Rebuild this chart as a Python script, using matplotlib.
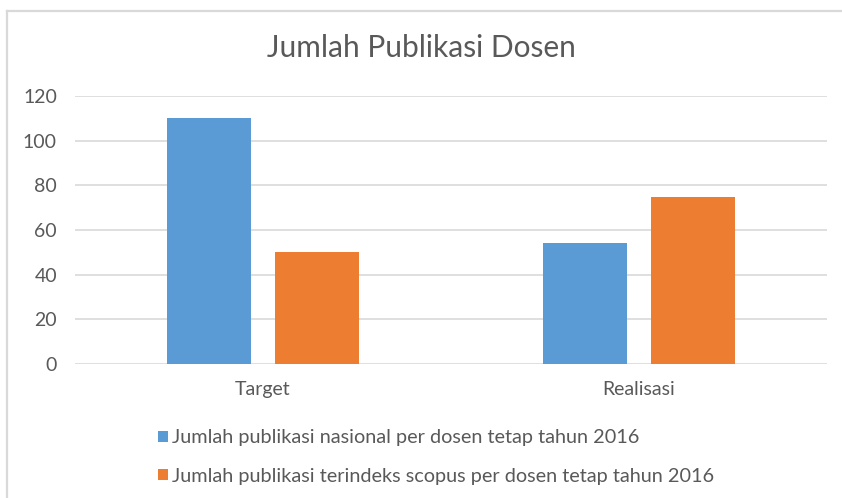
import matplotlib as mpl
mpl.use('Agg')
import matplotlib.pyplot as plt
from matplotlib.patches import Patch
from matplotlib.lines import Line2D
import numpy as np

categories = ['Target', 'Realisasi']
nasional = [110, 54]
scopus = [50, 75]
series_labels = ['Jumlah publikasi nasional per dosen tetap tahun 2016',
                 'Jumlah publikasi terindeks scopus per dosen tetap tahun 2016']
yticks = [0, 20, 40, 60, 80, 100, 120]

blue = '#5B9BD5'
orange = '#ED7D31'
txt = '#595959'
grid = '#D9D9D9'

plt.rcParams['font.family'] = ['Lato', 'DejaVu Sans']

fig = plt.figure(figsize=(8.42, 4.98), dpi=100)
ax = fig.add_axes([75/842, 1-364/498, 752/842, 268/498])

x = np.arange(len(categories))
w = 0.224
off = 0.1436
ax.bar(x - off, nasional, w, color=blue, zorder=3)
ax.bar(x + off, scopus, w, color=orange, zorder=3)

ax.set_xlim(-0.5, 1.5)
ax.set_ylim(0, 120)
ax.set_yticks(yticks)
ax.set_xticks(x)
ax.set_xticklabels(categories)
ax.yaxis.grid(True, color=grid, linewidth=1.2, zorder=0)
for s in ax.spines.values():
    s.set_visible(False)
ax.tick_params(axis='both', length=0, colors=txt, labelsize=14)
ax.tick_params(axis='y', pad=13)
ax.tick_params(axis='x', pad=12)

fig.text(0.5, 1-48/498, 'Jumlah Publikasi Dosen', ha='center', va='center',
         fontsize=21.5, color=txt)

handles = [Patch(facecolor=blue), Patch(facecolor=orange)]
fig.legend(handles, series_labels, loc='center left', bbox_to_anchor=(148/842, 1-457/498),
           frameon=False, fontsize=14.3, labelcolor=txt, handlelength=0.5,
           handleheight=0.5, handletextpad=0.2, labelspacing=1.08, borderpad=0)

# chart area border
fig.add_artist(Line2D([7/842, 7/842], [0, 1-11/498], color=grid, linewidth=1.6))
fig.add_artist(Line2D([7/842, 1], [1-11/498, 1-11/498], color=grid, linewidth=1.6))

fig.savefig('out.png', dpi=100, facecolor='white')
